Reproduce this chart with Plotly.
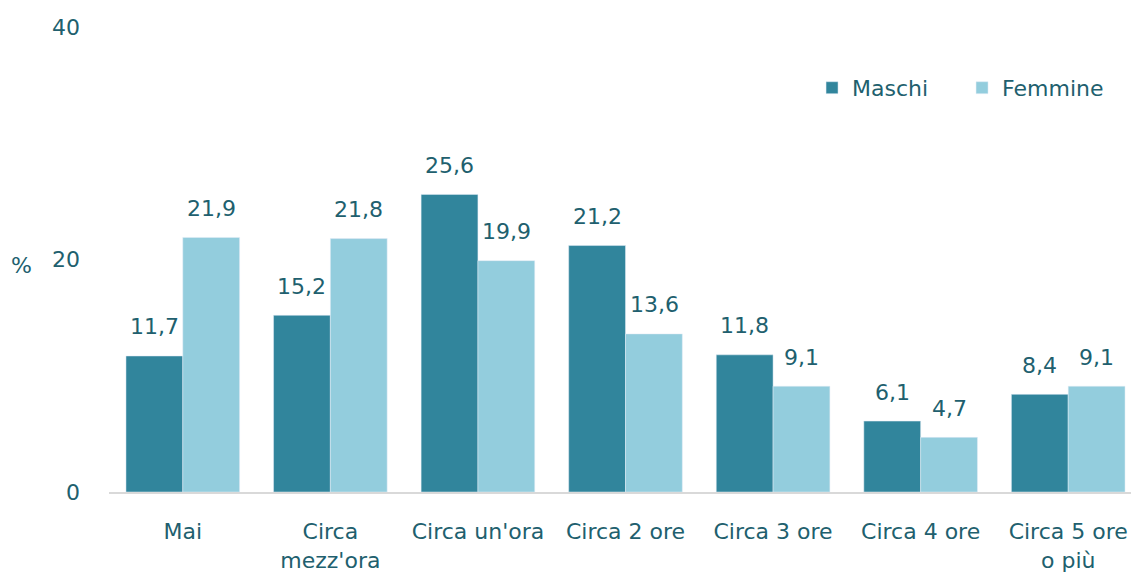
import plotly.graph_objects as go

categories = ["Mai", "Circa<br>mezz'ora", "Circa un'ora", "Circa 2 ore", "Circa 3 ore", "Circa 4 ore", "Circa 5 ore<br>o più"]
maschi = [11.7, 15.2, 25.6, 21.2, 11.8, 6.1, 8.4]
femmine = [21.9, 21.8, 19.9, 13.6, 9.1, 4.7, 9.1]
y_ticks = [0, 20, 40]

TXT = "#215F6E"
FONT = "DejaVu Sans"
FS = 22

def fmt(v):
    return f"{v:.1f}".replace(".", ",")

fig = go.Figure()
fig.add_trace(go.Bar(name="Maschi", x=categories, y=maschi, marker_color="#31859C"))
fig.add_trace(go.Bar(name="Femmine", x=categories, y=femmine, marker_color="#93CDDD"))

annotations = []
for series, shift in ((maschi, -28.5), (femmine, 28.5)):
    for c, v in zip(categories, series):
        annotations.append(dict(x=c, y=v, xref="x", yref="y", text=fmt(v), showarrow=False,
                                xshift=shift, yshift=29, yanchor="middle",
                                font=dict(size=FS, color=TXT, family=FONT)))
annotations.append(dict(text="%", xref="paper", yref="y", x=-0.073, y=19.5,
                        showarrow=False, xanchor="right",
                        font=dict(size=FS, color=TXT, family=FONT)))

fig.update_layout(
    width=1139, height=584,
    margin=dict(l=101, r=5, t=19, b=100, autoexpand=False),
    plot_bgcolor="white", paper_bgcolor="white",
    barmode="group", bargap=0.23, bargroupgap=0,
    separators=",.",
    font=dict(family=FONT, size=FS, color=TXT),
    legend=dict(orientation="h", x=0.971, xanchor="right", y=0.869, yanchor="middle",
                font=dict(size=FS, color=TXT, family=FONT), traceorder="normal",
                entrywidth=105),
    xaxis=dict(showgrid=False, showline=True, linecolor="#D9D9D9", linewidth=2,
               ticks="", tickfont=dict(size=FS, color=TXT), ticklabelstandoff=19),
    yaxis=dict(range=[0, 40], tickvals=y_ticks, showgrid=False, zeroline=False,
               showline=False, ticks="", tickfont=dict(size=FS, color=TXT),
               ticklabelstandoff=28),
    annotations=annotations,
)

fig.write_html("out.html")
